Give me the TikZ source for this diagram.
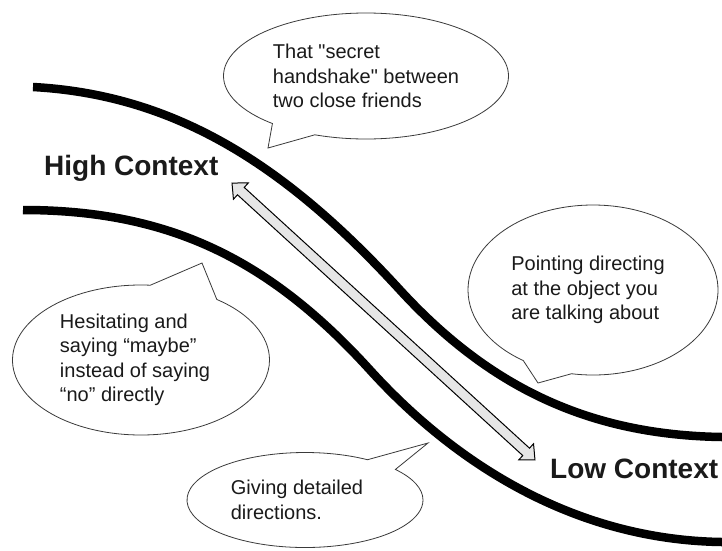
\documentclass[tikz,border=0pt]{standalone}
\usepackage{fontspec}
\setmainfont{Liberation Sans}[Ligatures=TeXOff]
\usetikzlibrary{shapes.callouts}

\definecolor{ink}{HTML}{1A1A1A}
\definecolor{bubbleline}{HTML}{3A3A3A}
\definecolor{arrowfill}{HTML}{E6E6E6}

% invisible padding that nudges a text block sideways inside its bubble
\newcommand{\padright}[1]{\makebox[#1]{}}

\begin{document}
\begin{tikzpicture}[x=1pt,y=-1pt,
  bubble/.style={ellipse callout, draw=bubbleline, line width=0.8pt, fill=white,
    inner sep=0pt, align=left, text=ink,
    font=\fontsize{20}{24.5}\selectfont},
  heading/.style={anchor=base west, text=ink, inner sep=0pt,
    font=\fontsize{28}{32}\selectfont\bfseries},
  band/.style={line width=8.5pt, black}
]
\useasboundingbox[fill=white] (0,0) rectangle (722,550);

% speech bubbles
\node[bubble, minimum width=285, minimum height=126,
      callout absolute pointer={(268,148)}, callout pointer arc=20]
  (secret) at (366,76) {That "secret\\handshake" between\\two close friends};
\node[bubble, minimum width=250, minimum height=170,
      callout absolute pointer={(538,383)}, callout pointer arc=24]
  (pointing) at (593,290) {Pointing directing\padright{10pt}\\at the object you\\are talking about};
\node[bubble, minimum width=257, minimum height=150,
      callout absolute pointer={(202,263)}, callout pointer arc=32]
  (hesitate) at (141,360) {Hesitating and\\saying “maybe”\\instead of saying\padright{12pt}\\“no” directly};
\node[bubble, minimum width=236, minimum height=95,
      callout absolute pointer={(428,443)}, callout pointer arc=18]
  (detailed) at (305,500) {Giving detailed\padright{16pt}\\directions.};

% the two bands running from high to low context
\draw[band] (33,87) .. controls (180,95) and (290,170) .. (400,290)
            .. controls (490,388) and (590,435) .. (722,437);
\draw[band] (23,210) .. controls (170,210) and (270,260) .. (370,370)
            .. controls (460,469) and (580,540) .. (722,542);

% double-headed scale arrow
\begin{scope}[shift={(232,183)}, rotate=-42.43]
  \draw[fill=arrowfill, line width=1pt, line join=miter]
    (0,0) -- (12,11) -- (12,5) -- (398.5,5) -- (398.5,11) -- (410.5,0)
    -- (398.5,-11) -- (398.5,-5) -- (12,-5) -- (12,-11) -- cycle;
\end{scope}

% labels
\node[heading] (high) at (44,175) {High Context};
\node[heading] (low) at (550,478) {Low Context};
\end{tikzpicture}
\end{document}
